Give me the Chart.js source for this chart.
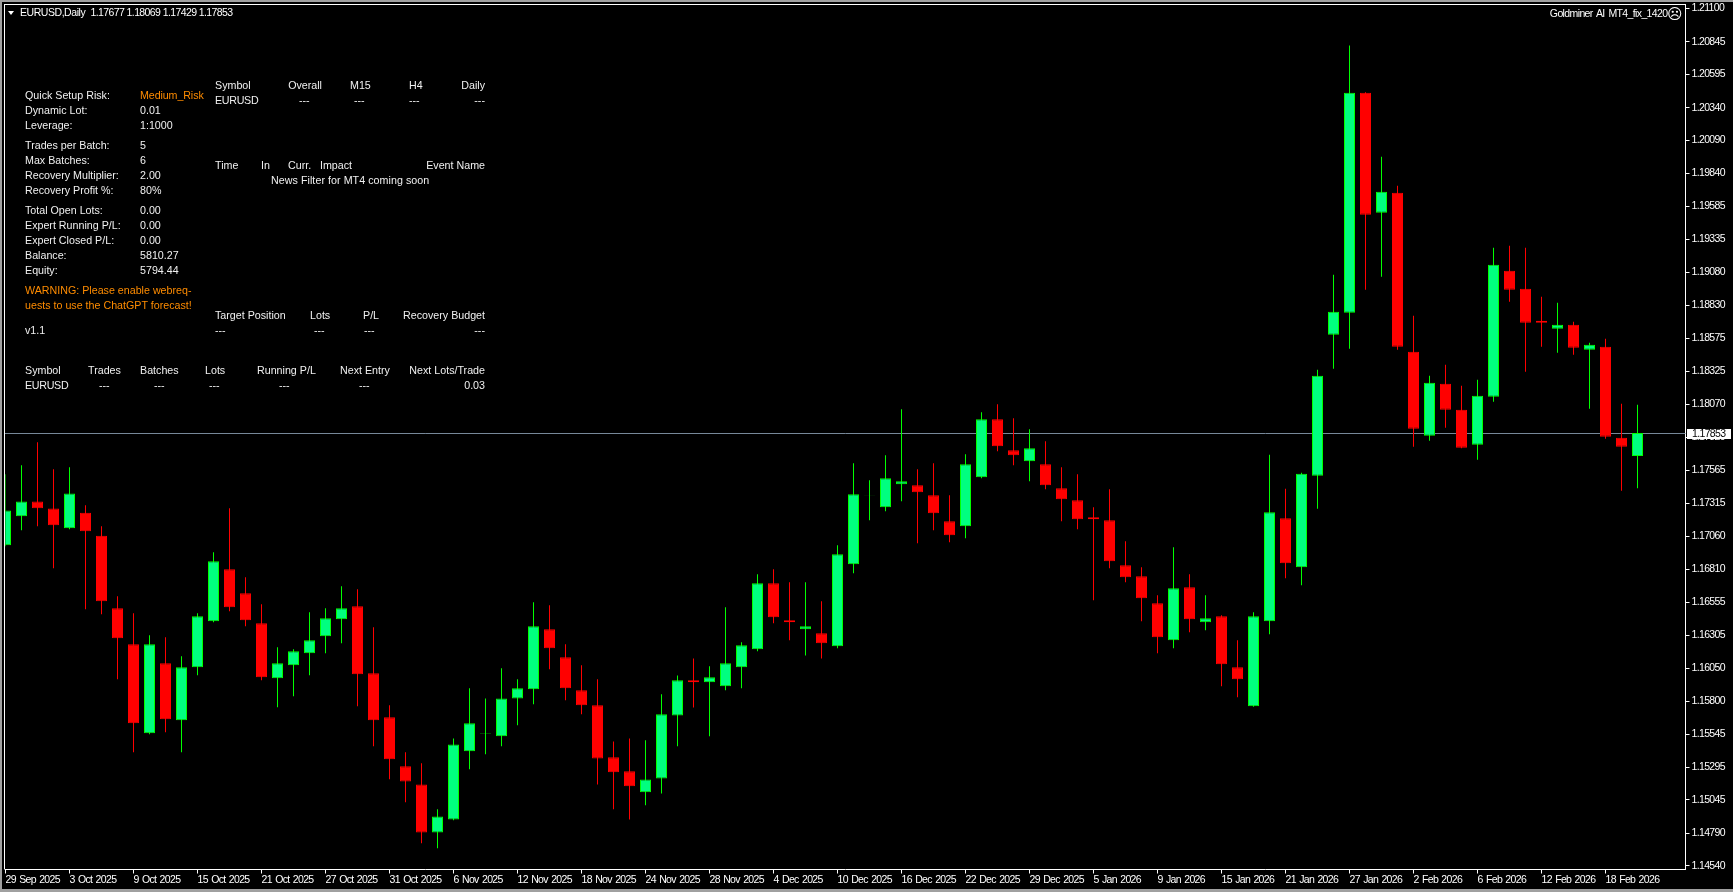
<!DOCTYPE html>
<html lang="en">
<head>
    <meta charset="UTF-8">
    <title>EURUSD,Daily</title>
    <script src="https://cdn.jsdelivr.net/npm/chart.js"></script>
    <style>
        html, body {
            margin: 0;
            padding: 0;
            background: #000;
            overflow: hidden;
        }
        #wrap {
            position: relative;
            width: 1733px;
            height: 892px;
        }
        #edge {
            position: absolute;
            left: 0;
            top: 0;
            width: 1731px;
            height: 887px;
            border: solid #a0a0a0;
            border-width: 2px 0 3px 2px;
            pointer-events: none;
        }
        canvas {
            position: absolute;
            left: 0;
            top: 0;
        }
        #panel span {
            position: absolute;
            font: 10.7px/13px "Liberation Sans", Arial, sans-serif;
            color: #f0f0f0;
            white-space: nowrap;
        }
        #panel span.o {
            color: #ff8c00;
        }
        #panel span.r {
            right: 1248px;
        }
        #panel span.head {
            font: 10.5px/13px "Liberation Sans", sans-serif;
            color: #fff;
            letter-spacing: -0.62px;
            word-spacing: 1.5px;
        }
        #arrow {
            position: absolute;
            left: 8px;
            top: 11px;
            border: solid transparent;
            border-width: 4px 3.5px 0 3.5px;
            border-top-color: #fff;
        }
    </style>
</head>
<body>
<div id="wrap">
    <canvas id="chart" width="1733" height="892"></canvas>
    <div id="edge"></div>
    <div id="arrow"></div>
    <div id="panel">
        <span class="head" style="left:20px;top:6px;letter-spacing:-0.45px">EURUSD,Daily</span>
        <span class="head" style="left:90.5px;top:6px;letter-spacing:-0.6px;word-spacing:0">1.17677 1.18069 1.17429 1.17853</span>
        <span class="head" style="right:65.5px;top:7px">Goldminer AI MT4_fix_1420</span>
        <span class="head" style="left:1667px;top:7px;font:15px/14px 'DejaVu Sans';letter-spacing:0">☹</span>

        <span style="left:25px;top:89px">Quick Setup Risk:</span><span class="o" style="left:140px;top:89px;letter-spacing:-0.1px">Medium_Risk</span>
        <span style="left:25px;top:104px">Dynamic Lot:</span><span style="left:140px;top:104px">0.01</span>
        <span style="left:25px;top:119px">Leverage:</span><span style="left:140px;top:119px">1:1000</span>
        <span style="left:25px;top:139px">Trades per Batch:</span><span style="left:140px;top:139px">5</span>
        <span style="left:25px;top:154px">Max Batches:</span><span style="left:140px;top:154px">6</span>
        <span style="left:25px;top:169px">Recovery Multiplier:</span><span style="left:140px;top:169px">2.00</span>
        <span style="left:25px;top:184px">Recovery Profit %:</span><span style="left:140px;top:184px">80%</span>
        <span style="left:25px;top:204px">Total Open Lots:</span><span style="left:140px;top:204px">0.00</span>
        <span style="left:25px;top:219px">Expert Running P/L:</span><span style="left:140px;top:219px">0.00</span>
        <span style="left:25px;top:234px">Expert Closed P/L:</span><span style="left:140px;top:234px">0.00</span>
        <span style="left:25px;top:249px">Balance:</span><span style="left:140px;top:249px">5810.27</span>
        <span style="left:25px;top:264px">Equity:</span><span style="left:140px;top:264px">5794.44</span>
        <span class="o" style="left:25px;top:284px">WARNING: Please enable webreq-</span>
        <span class="o" style="left:25px;top:299px">uests to use the ChatGPT forecast!</span>
        <span style="left:25px;top:324px">v1.1</span>

        <span style="left:215px;top:79px">Symbol</span>
        <span style="right:1411px;top:79px">Overall</span>
        <span style="left:350px;top:79px">M15</span>
        <span style="left:409px;top:79px">H4</span>
        <span class="r" style="top:79px">Daily</span>
        <span style="left:215px;top:94px;letter-spacing:-0.3px">EURUSD</span>
        <span style="left:299px;top:94px">---</span>
        <span style="left:354px;top:94px">---</span>
        <span style="left:409px;top:94px">---</span>
        <span class="r" style="top:94px">---</span>

        <span style="left:215px;top:159px">Time</span>
        <span style="left:261px;top:159px">In</span>
        <span style="left:288px;top:159px">Curr.</span>
        <span style="left:320px;top:159px">Impact</span>
        <span class="r" style="top:159px">Event Name</span>
        <span style="left:271px;top:174px;letter-spacing:0.05px">News Filter for MT4 coming soon</span>

        <span style="left:215px;top:309px">Target Position</span>
        <span style="left:310px;top:309px">Lots</span>
        <span style="left:363px;top:309px">P/L</span>
        <span class="r" style="top:309px">Recovery Budget</span>
        <span style="left:215px;top:324px">---</span>
        <span style="left:314px;top:324px">---</span>
        <span style="left:364px;top:324px">---</span>
        <span class="r" style="top:324px">---</span>

        <span style="left:25px;top:364px">Symbol</span>
        <span style="left:88px;top:364px">Trades</span>
        <span style="left:140px;top:364px">Batches</span>
        <span style="left:205px;top:364px">Lots</span>
        <span style="left:257px;top:364px">Running P/L</span>
        <span style="left:340px;top:364px">Next Entry</span>
        <span class="r" style="top:364px">Next Lots/Trade</span>
        <span style="left:25px;top:379px;letter-spacing:-0.3px">EURUSD</span>
        <span style="left:99px;top:379px">---</span>
        <span style="left:154px;top:379px">---</span>
        <span style="left:209px;top:379px">---</span>
        <span style="left:279px;top:379px">---</span>
        <span style="left:359px;top:379px">---</span>
        <span class="r" style="top:379px">0.03</span>
    </div>
</div>

<script>
    const dates = [
        '29 Sep 2025','30 Sep 2025','1 Oct 2025','2 Oct 2025','3 Oct 2025','6 Oct 2025','7 Oct 2025','8 Oct 2025',
        '9 Oct 2025','10 Oct 2025','13 Oct 2025','14 Oct 2025','15 Oct 2025','16 Oct 2025','17 Oct 2025','20 Oct 2025',
        '21 Oct 2025','22 Oct 2025','23 Oct 2025','24 Oct 2025','27 Oct 2025','28 Oct 2025','29 Oct 2025','30 Oct 2025',
        '31 Oct 2025','3 Nov 2025','4 Nov 2025','5 Nov 2025','6 Nov 2025','7 Nov 2025','10 Nov 2025','11 Nov 2025',
        '12 Nov 2025','13 Nov 2025','14 Nov 2025','17 Nov 2025','18 Nov 2025','19 Nov 2025','20 Nov 2025','21 Nov 2025',
        '24 Nov 2025','25 Nov 2025','26 Nov 2025','27 Nov 2025','28 Nov 2025','1 Dec 2025','2 Dec 2025','3 Dec 2025',
        '4 Dec 2025','5 Dec 2025','8 Dec 2025','9 Dec 2025','10 Dec 2025','11 Dec 2025','12 Dec 2025','15 Dec 2025',
        '16 Dec 2025','17 Dec 2025','18 Dec 2025','19 Dec 2025','22 Dec 2025','23 Dec 2025','24 Dec 2025','26 Dec 2025',
        '29 Dec 2025','30 Dec 2025','31 Dec 2025','2 Jan 2026','5 Jan 2026','6 Jan 2026','7 Jan 2026','8 Jan 2026',
        '9 Jan 2026','12 Jan 2026','13 Jan 2026','14 Jan 2026','15 Jan 2026','16 Jan 2026','19 Jan 2026','20 Jan 2026',
        '21 Jan 2026','22 Jan 2026','23 Jan 2026','26 Jan 2026','27 Jan 2026','28 Jan 2026','29 Jan 2026','30 Jan 2026',
        '2 Feb 2026','3 Feb 2026','4 Feb 2026','5 Feb 2026','6 Feb 2026','9 Feb 2026','10 Feb 2026','11 Feb 2026',
        '12 Feb 2026','13 Feb 2026','16 Feb 2026','17 Feb 2026','18 Feb 2026','19 Feb 2026','20 Feb 2026'
    ];

    const opens = [
        1.16993,1.17215,1.17328,1.17274,1.17124,1.17243,1.17067,1.16511,1.16236,1.15555,1.16090,1.15654,1.16060,
        1.16412,1.16810,1.16626,1.16397,1.15976,1.16075,1.16167,1.16297,1.16427,1.16527,1.16014,1.15677,1.15302,
        1.15164,1.14797,1.14896,1.15417,1.15550,1.15532,1.15822,1.15891,1.16351,1.16136,1.15884,1.15769,1.15371,
        1.15264,1.15103,1.15210,1.15692,1.15960,1.15945,1.15914,1.16060,1.16197,1.16703,1.16419,1.16350,1.16320,
        1.16220,1.16848,1.17372,1.17284,1.17460,1.17453,1.17376,1.17177,1.17139,1.17514,1.17958,1.17720,1.17636,
        1.17613,1.17430,1.17338,1.17208,1.17185,1.16840,1.16756,1.16550,1.16267,1.16672,1.16404,1.16450,1.16060,
        1.15761,1.16412,1.17200,1.16825,1.17525,1.18604,1.18772,1.20456,1.19538,1.19691,1.18474,1.17831,1.18229,
        1.18030,1.17762,1.18129,1.19094,1.18956,1.18711,1.18650,1.18680,1.18489,1.18512,1.17816,1.17677
    ];
    const highs = [
        1.17537,1.17606,1.17782,1.17575,1.17590,1.17300,1.17139,1.16603,1.16473,1.16305,1.16289,1.16144,1.16473,
        1.16940,1.17277,1.16749,1.16542,1.16213,1.16198,1.16481,1.16511,1.16680,1.16657,1.16366,1.15769,1.15409,
        1.15325,1.14973,1.15516,1.15899,1.15822,1.16052,1.15968,1.16557,1.16534,1.16236,1.16075,1.15968,1.15493,
        1.15516,1.15501,1.15853,1.15998,1.16128,1.16067,1.16519,1.16251,1.16771,1.16810,1.16710,1.16710,1.16565,
        1.16993,1.17621,1.17491,1.17682,1.18034,1.17575,1.17621,1.17376,1.17690,1.18011,1.18072,1.17965,1.17881,
        1.17789,1.17590,1.17537,1.17284,1.17422,1.17024,1.16825,1.16611,1.16978,1.16772,1.16611,1.16458,1.16267,
        1.16481,1.17685,1.17425,1.17548,1.18336,1.19063,1.20816,1.20459,1.19966,1.19744,1.18749,1.18290,1.18374,
        1.18213,1.18259,1.19270,1.19285,1.19270,1.18895,1.18849,1.18703,1.18543,1.18573,1.18076,1.18069
    ];
    const lows = [
        1.16986,1.17108,1.17139,1.16817,1.17116,1.16504,1.16465,1.15968,1.15409,1.15547,1.15562,1.15409,1.15999,
        1.16404,1.16488,1.16374,1.15960,1.15754,1.15838,1.15999,1.16167,1.16243,1.15761,1.15455,1.15203,1.15027,
        1.14713,1.14675,1.14889,1.15279,1.15394,1.15455,1.15616,1.15777,1.16044,1.15807,1.15700,1.15164,1.14973,
        1.14896,1.15004,1.15095,1.15455,1.15753,1.15532,1.15884,1.15899,1.16182,1.16396,1.16266,1.16151,1.16128,
        1.16205,1.16779,1.17185,1.17254,1.17330,1.17009,1.17108,1.17016,1.17047,1.17506,1.17713,1.17606,1.17483,
        1.17422,1.17177,1.17116,1.16572,1.16817,1.16710,1.16412,1.16167,1.16205,1.16328,1.16343,1.15915,1.15830,
        1.15758,1.16312,1.16741,1.16688,1.17272,1.18344,1.18497,1.18948,1.19048,1.18489,1.17747,1.17793,1.17892,
        1.17736,1.17647,1.18091,1.18856,1.18321,1.18512,1.18466,1.18451,1.18037,1.17808,1.17410,1.17429
    ];
    const closes = [
        1.17259,1.17328,1.17277,1.17147,1.17389,1.17101,1.16565,1.16282,1.15631,1.16236,1.15662,1.16060,1.16450,
        1.16871,1.16519,1.16419,1.15983,1.16090,1.16182,1.16266,1.16435,1.16511,1.16006,1.15654,1.15356,1.15187,
        1.14797,1.14919,1.15470,1.15631,1.15554,1.15822,1.15899,1.16374,1.16205,1.15899,1.15769,1.15363,1.15256,
        1.15149,1.15202,1.15700,1.15960,1.15945,1.15983,1.16090,1.16228,1.16703,1.16442,1.16404,1.16373,1.16243,
        1.16924,1.17384,1.17375,1.17506,1.17483,1.17399,1.17238,1.17070,1.17613,1.17958,1.17751,1.17682,1.17736,
        1.17453,1.17345,1.17192,1.17192,1.16871,1.16748,1.16588,1.16290,1.16665,1.16427,1.16435,1.16083,1.15968,
        1.16450,1.17246,1.16856,1.17540,1.18290,1.18780,1.20456,1.19522,1.19698,1.18512,1.17884,1.18237,1.18030,
        1.17739,1.18137,1.19140,1.18948,1.18696,1.18696,1.18680,1.18504,1.18527,1.17823,1.17747,1.17853
    ];

    const priceTicks = [
        1.21100,1.20845,1.20595,1.20340,1.20090,1.19840,1.19585,1.19335,1.19080,1.18830,1.18575,1.18325,1.18070,1.17820,
        1.17565,1.17315,1.17060,1.16810,1.16555,1.16305,1.16050,1.15800,1.15545,1.15295,1.15045,1.14790,1.14540
    ];
    const lastPrice = 1.17853;

    const UP_WICK = '#00ff00', UP_BODY = '#00ff7f', DOWN = '#ff0000';
    const axisFont = { family: '"Liberation Sans", sans-serif', size: 10.5 };

    const isUp = i => closes[i] >= opens[i];
    // three empty slots right of the last bar, like the chart shift in the terminal
    const labels = dates.concat(['', '', '']);

    const framePlugin = {
        id: 'frame',
        beforeDraw(chart) {
            const { ctx, chartArea } = chart;
            ctx.fillStyle = '#000';
            ctx.fillRect(0, 0, chart.width, chart.height);
            ctx.fillStyle = '#fff';
            ctx.fillRect(4, 4, chartArea.right - 4, 1);
            ctx.fillRect(4, 4, 1, chartArea.bottom - 4);
            // axis labels are tighter than any installed font; left set for the scales to inherit
            ctx.letterSpacing = '-0.65px';
            ctx.wordSpacing = '1px';
        },
        // price line sits behind the candles
        beforeDatasetsDraw(chart) {
            const { ctx, chartArea, scales } = chart;
            const y = Math.round(scales.y.getPixelForValue(lastPrice)) + 0.5;
            ctx.save();
            ctx.strokeStyle = '#778899';
            ctx.lineWidth = 1;
            ctx.beginPath();
            ctx.moveTo(5, y);
            ctx.lineTo(chartArea.right, y);
            ctx.stroke();
            ctx.restore();
        },
        afterDraw(chart) {
            const { ctx, scales } = chart;
            const y = Math.round(scales.y.getPixelForValue(lastPrice));
            ctx.save();
            ctx.fillStyle = '#fff';
            ctx.fillRect(1687, y - 4, 44, 10);
            ctx.fillStyle = '#000';
            ctx.font = axisFont.size + 'px ' + axisFont.family;
            ctx.textBaseline = 'middle';
            ctx.fillText(lastPrice.toFixed(5), 1692, y + 1);
            ctx.restore();
        }
    };

    new Chart(document.getElementById('chart'), {
        type: 'bar',
        data: {
            labels: labels,
            datasets: [
                {
                    label: 'wick',
                    data: dates.map((_, i) => [lows[i], highs[i]]),
                    backgroundColor: dates.map((_, i) => isUp(i) ? UP_WICK : DOWN),
                    barThickness: 1,
                    grouped: false,
                    inflateAmount: 0,
                    order: 2
                },
                {
                    label: 'body',
                    data: dates.map((_, i) => [opens[i], closes[i]]),
                    backgroundColor: dates.map((_, i) => isUp(i) ? UP_BODY : DOWN),
                    borderColor: dates.map((_, i) => isUp(i) ? UP_WICK : DOWN),
                    borderWidth: 1,
                    borderSkipped: false,
                    barThickness: 11,
                    grouped: false,
                    inflateAmount: 0,
                    order: 1
                }
            ]
        },
        options: {
            responsive: false,
            animation: false,
            devicePixelRatio: 1,
            layout: { autoPadding: false, padding: { left: 5.5, top: 4, right: 0, bottom: 0 } },
            plugins: { legend: { display: false }, tooltip: { enabled: false } },
            scales: {
                x: {
                    offset: false,
                    grid: { offset: false, drawOnChartArea: false, color: '#fff', tickLength: 4 },
                    border: { color: '#fff' },
                    ticks: { color: '#fff', font: axisFont, autoSkip: false, maxRotation: 0, align: 'start', padding: 0 },
                    afterBuildTicks(scale) {
                        scale.ticks = scale.ticks.filter(t => t.value % 4 === 0 && t.value <= 100);
                    },
                    afterFit(scale) { scale.height = 22.5; }
                },
                y: {
                    position: 'right',
                    min: 1.14513,
                    max: 1.21134,
                    grid: { drawOnChartArea: false, color: '#fff', tickLength: 4 },
                    border: { color: '#fff' },
                    ticks: {
                        color: '#fff',
                        font: axisFont,
                        padding: 2,
                        callback: value => value.toFixed(5)
                    },
                    afterBuildTicks(scale) {
                        scale.ticks = priceTicks.map(v => ({ value: v }));
                    },
                    // the half-label padding would push the plot top down past the frame
                    afterFit(scale) {
                        scale.width = 47.5;
                        scale.paddingTop = 0;
                        scale.paddingBottom = 0;
                    }
                }
            }
        },
        plugins: [framePlugin]
    });
</script>
</body>
</html>
